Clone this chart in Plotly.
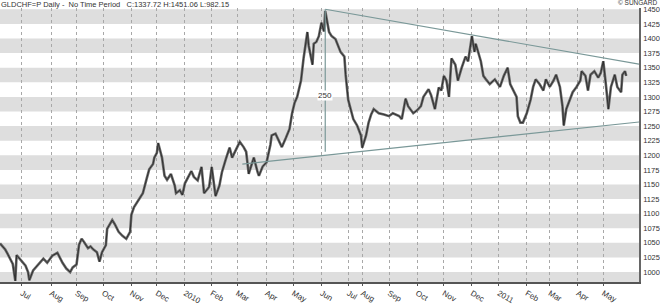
import plotly.graph_objects as go

# trading-session index of each reading and the price read at it
sessions = [0, 4, 6, 9, 10, 12, 13, 15, 17, 20, 22, 23, 26, 29, 31, 34, 37, 39, 41, 45,
            47, 49, 52, 55, 57, 60, 62, 64, 66, 69, 71, 73, 76, 78, 80, 83, 84, 88, 90, 93,
            96, 99, 102, 103, 105, 107, 109, 112, 115, 117, 120, 121, 123, 124, 127, 129, 131, 134, 137, 138,
            141, 143, 145, 148, 150, 152, 155, 158, 160, 163, 164, 166, 169, 172, 174, 177, 180, 182, 185, 188,
            191, 193, 195, 197, 199, 202, 203, 206, 209, 212, 213, 216, 219, 221, 224, 227, 229, 231, 233, 236,
            238, 241, 242, 244, 245, 246, 248, 250, 252, 254, 255, 258, 260, 263, 264, 267, 270, 271, 273, 275,
            277, 280, 283, 284, 287, 289, 291, 293, 297, 301, 305, 308, 310, 313, 315, 318, 320, 324, 327, 330,
            332, 336, 338, 341, 344, 346, 348, 350, 352, 354, 357, 359, 362, 365, 367, 370, 372, 373, 377, 379,
            381, 384, 388, 392, 395, 398, 400, 402, 405, 406, 408, 410, 413, 416, 418, 420, 423, 426, 428, 431,
            434, 436, 439, 441, 442, 444, 447, 449, 452, 455, 456, 459, 461, 463, 466, 469, 471, 473, 475, 477,
            479, 482, 484, 487, 488, 490, 491]
prices = [1049, 1039, 1031, 1018, 1014, 985, 1029, 1024, 1018, 1011, 1000, 986, 1003, 1011, 1016, 1023, 1016, 1023, 1028, 1033,
          1024, 1016, 1006, 1000, 1008, 1013, 1047, 1057, 1051, 1041, 1044, 1039, 1034, 1018, 1034, 1046, 1074, 1089, 1082, 1069,
          1062, 1057, 1069, 1098, 1111, 1118, 1123, 1135, 1160, 1176, 1185, 1196, 1204, 1221, 1196, 1165, 1158, 1168, 1148, 1135,
          1140, 1132, 1152, 1165, 1173, 1163, 1157, 1180, 1135, 1143, 1146, 1180, 1130, 1148, 1171, 1193, 1213, 1196, 1209, 1223,
          1214, 1206, 1168, 1181, 1196, 1171, 1165, 1181, 1188, 1218, 1234, 1237, 1222, 1214, 1229, 1245, 1272, 1290, 1300, 1328,
          1366, 1411, 1388, 1363, 1355, 1391, 1394, 1404, 1427, 1412, 1447, 1411, 1404, 1399, 1394, 1377, 1369, 1338, 1295, 1279,
          1262, 1251, 1234, 1213, 1234, 1256, 1270, 1279, 1272, 1270, 1267, 1272, 1270, 1267, 1262, 1297, 1284, 1272, 1277, 1284,
          1300, 1313, 1303, 1279, 1316, 1311, 1336, 1328, 1300, 1366, 1355, 1328, 1350, 1369, 1361, 1404, 1377, 1391, 1361, 1336,
          1330, 1322, 1330, 1317, 1336, 1350, 1322, 1313, 1300, 1267, 1256, 1256, 1272, 1295, 1317, 1330, 1322, 1311, 1330, 1317,
          1328, 1338, 1317, 1284, 1251, 1279, 1295, 1308, 1317, 1328, 1344, 1336, 1311, 1338, 1344, 1333, 1341, 1361, 1322, 1279,
          1317, 1338, 1317, 1308, 1338, 1344, 1336]

month_labels = ["Jul", "Aug", "Sep", "Oct", "Nov", "Dec", "2010", "Feb", "Mar", "Apr", "May", "Jun",
                "Jul", "Aug", "Sep", "Oct", "Nov", "Dec", "2011", "Feb", "Mar", "Apr", "May"]
month_sessions = [17, 40, 60, 81, 103, 123, 145, 166, 186, 209, 230, 252,
                  273, 284, 305, 327, 348, 370, 391, 413, 431, 453, 473]

price_ticks = list(range(1000, 1451, 25))
band_lows = [1425, 1375, 1325, 1275, 1225, 1175, 1125, 1075, 1025, 975]

upper_line_x = [255, 501]
upper_line_y = [1450, 1356]
lower_line_x = [190, 501]
lower_line_y = [1185, 1257]
measure_x = [255, 255]
measure_y = [1450, 1206]
measure_label = "250"

title_text = "GLDCHF=P Daily -  No Time Period   C:1337.72 H:1451.06 L:982.15"

FONT = "Liberation Sans Narrow, Arial Narrow, Liberation Sans, Arial, sans-serif"
line_col = "#7a9898"

fig = go.Figure()

for lo in band_lows:
    fig.add_shape(type="rect", xref="paper", x0=0, x1=1, yref="y", y0=lo, y1=lo + 25,
                  fillcolor="#dedede", line_width=0, layer="below")

fig.add_trace(go.Scatter(x=sessions, y=prices, mode="lines",
                         line=dict(color="#6a6a6a", width=2.6), hoverinfo="skip"))
fig.add_trace(go.Scatter(x=sessions, y=prices, mode="lines",
                         line=dict(color="#222222", width=0.8), hoverinfo="skip"))

for xs, ys in [(upper_line_x, upper_line_y), (lower_line_x, lower_line_y), (measure_x, measure_y)]:
    fig.add_trace(go.Scatter(x=xs, y=ys, mode="lines", line=dict(color=line_col, width=1.2),
                             hoverinfo="skip"))

fig.add_annotation(x=measure_x[0], y=1303, text=measure_label, showarrow=False,
                   bgcolor="white", font=dict(family=FONT, size=8, color="#333"), borderpad=0)
fig.add_annotation(xref="paper", yref="paper", x=0, y=1, yanchor="top", xanchor="left",
                   yshift=9, text=title_text, showarrow=False, borderpad=0,
                   font=dict(family=FONT, size=7.5, color="#333"))
fig.add_annotation(xref="paper", yref="paper", x=1.0295, y=1, yanchor="top", xanchor="right",
                   yshift=10, text="\u00a9 SUNGARD", showarrow=False, borderpad=0,
                   font=dict(family=FONT, size=6.5, color="#333"))

fig.update_layout(
    width=660, height=306,
    margin=dict(l=0, r=19, t=8, b=14),
    paper_bgcolor="white", plot_bgcolor="white",
    showlegend=False,
    font=dict(family=FONT, size=8, color="#333"),
    xaxis=dict(range=[0, 501], tickvals=month_sessions, ticktext=month_labels,
               showgrid=True, gridcolor="#a8a8a8", griddash="dot", gridwidth=1,
               showline=True, linecolor="#555", linewidth=1.5, ticks="outside", ticklen=2,
               tickcolor="#555", zeroline=False, tickfont=dict(size=8)),
    yaxis=dict(range=[983, 1452.2], side="right", tickvals=price_ticks,
               showgrid=False, showline=True, linecolor="#666", linewidth=1.5,
               ticks="", zeroline=False, tickfont=dict(size=7.5), ticklabelstandoff=1),
)

fig.write_html("out.html")
